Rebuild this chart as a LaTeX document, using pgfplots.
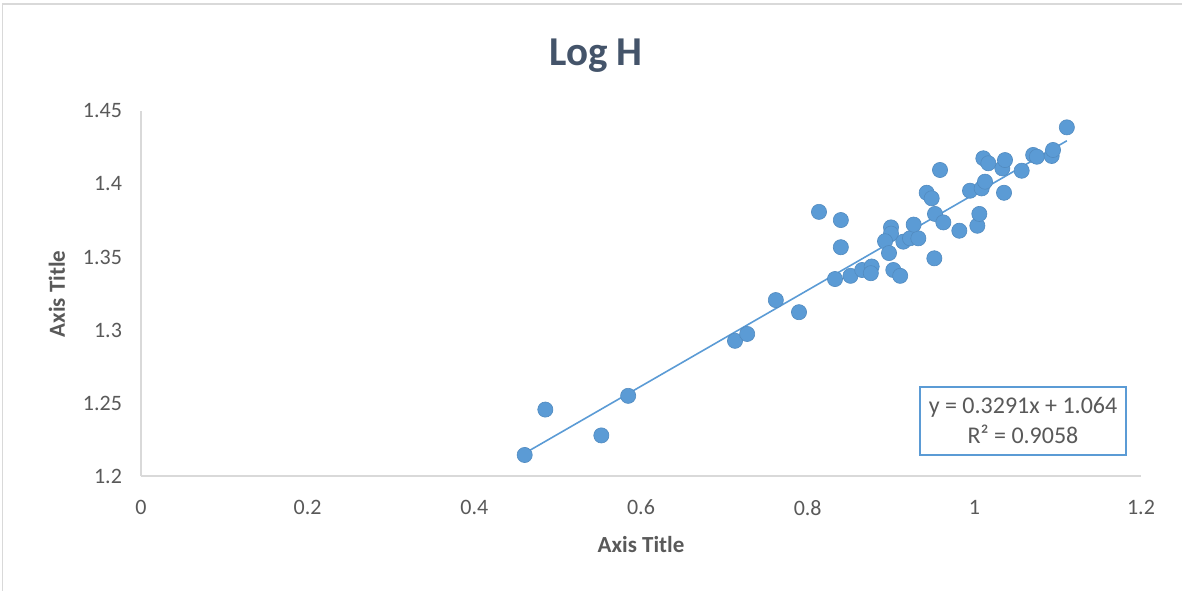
\documentclass[border=0pt]{standalone}
\usepackage{pgfplots}
\pgfplotsset{compat=1.18}
\usepackage{fontspec}
\setmainfont{Carlito}
\definecolor{ser}{HTML}{5B9BD5}
\definecolor{txt}{HTML}{595959}
\definecolor{ttl}{HTML}{44546A}
\definecolor{axl}{HTML}{D9D9D9}
\begin{document}
\begin{tikzpicture}
\useasboundingbox (0,0) rectangle (591pt,295pt);
\draw[axl,line width=0.6pt] (1.4pt,-1pt) -- (1.4pt,293pt) -- (592pt,293pt);
\begin{axis}[
  at={(70.5pt,57pt)}, anchor=south west,
  scale only axis, width=500pt, height=182.5pt,
  xmin=0, xmax=1.2, ymin=1.2, ymax=1.45,
  xtick={0,0.2,...,1.2}, ytick={1.2,1.25,...,1.45},
  axis line style={axl,line width=0.6pt},
  axis x line*=bottom, axis y line*=left,
  separate axis lines,
  major tick length=0pt,
  tick label style={font=\fontsize{11pt}{13pt}\selectfont, text=txt},
  /pgf/number format/assume math mode=true,
  xticklabel style={yshift=-8.5pt},
  yticklabel style={xshift=-6pt},
  yticklabel={\pgfmathprintnumber[fixed,precision=2]{\tick}},
  xticklabel={\pgfmathprintnumber[fixed,precision=1]{\tick}},
  clip=false,
]
\addplot[ser, line width=0.8pt, no marks] coordinates {(0.4596,1.2153) (1.111,1.4296)};
\addplot[only marks, mark=*, mark size=3.8pt, mark options={fill=ser, draw=ser!90!black, line width=0.3pt}] coordinates {
(0.4604,1.2144) (0.4852,1.2455) (0.5524,1.2278) (0.5846,1.2549)
(0.7128,1.2926) (0.7274,1.2973) (0.7618,1.3205) (0.7896,1.3122)
(0.8136,1.3809) (0.8398,1.3753) (0.8398,1.3567) (0.8328,1.3349)
(0.8514,1.3371) (0.8654,1.3411) (0.8768,1.3435) (0.8758,1.3389)
(0.9000,1.3703) (0.9000,1.3660) (0.8928,1.3608) (0.8976,1.3527)
(0.9028,1.3411) (0.9110,1.3371) (0.9148,1.3605) (0.9228,1.3628)
(0.9328,1.3628) (0.9272,1.3722) (0.9528,1.3795) (0.9628,1.3737)
(0.9520,1.3491) (0.9428,1.3940) (0.9488,1.3902) (0.9588,1.4096)
(0.9820,1.3680) (0.9948,1.3954) (1.0036,1.3714) (1.0060,1.3795)
(1.0088,1.3970) (1.0128,1.4016) (1.0108,1.4176) (1.0168,1.4142)
(1.0336,1.4107) (1.0368,1.4164) (1.0356,1.3940) (1.0568,1.4091)
(1.0706,1.4199) (1.0750,1.4187) (1.0928,1.4192) (1.0944,1.4233)
(1.1110,1.4388)
};
\node[draw=ser, line width=0.75pt, fill=white, minimum width=103pt, minimum height=34pt, align=center, text=txt, font=\fontsize{12pt}{15pt}\selectfont, inner sep=2pt]
  at (axis cs:1.0584,1.2377) {y = 0.3291x + 1.064\\R² = 0.9058};
\end{axis}
\node[font=\bfseries\fontsize{20.5pt}{24pt}\selectfont, text=ttl] at (298pt,267pt) {Log H};
\node[font=\bfseries\fontsize{11.5pt}{14pt}\selectfont, text=txt] at (320.5pt,22.5pt) {Axis Title};
\node[font=\bfseries\fontsize{11.5pt}{14pt}\selectfont, text=txt, rotate=90] at (28.5pt,148pt) {Axis Title};
\end{tikzpicture}
\end{document}
